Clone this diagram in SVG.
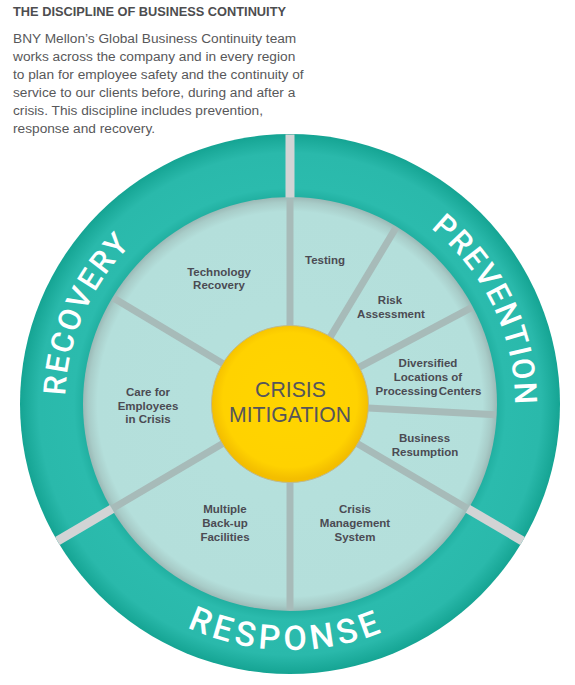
<svg xmlns="http://www.w3.org/2000/svg" width="575" height="685" viewBox="0 0 575 685">
  <defs>
    <radialGradient id="ringGrad" gradientUnits="userSpaceOnUse" cx="290" cy="404" r="270">
      <stop offset="0.76" stop-color="#1fae9f"/>
      <stop offset="0.80" stop-color="#2bbbad"/>
      <stop offset="0.93" stop-color="#2ab9ab"/>
      <stop offset="1" stop-color="#15a493"/>
    </radialGradient>
    <radialGradient id="innerGrad" gradientUnits="userSpaceOnUse" cx="290" cy="404" r="207">
      <stop offset="0" stop-color="#b6e1dd"/>
      <stop offset="0.93" stop-color="#b4dfdb"/>
      <stop offset="0.975" stop-color="#a8ccc8"/>
      <stop offset="1" stop-color="#9bb9b6"/>
    </radialGradient>
    <radialGradient id="sunGrad" gradientUnits="userSpaceOnUse" cx="290" cy="400" r="79">
      <stop offset="0" stop-color="#ffd500"/>
      <stop offset="0.85" stop-color="#ffd200"/>
      <stop offset="1" stop-color="#f3be00"/>
    </radialGradient>
    <path id="arcRecovery" d="M 80.4 485.7 A 225 225 0 0 1 208.3 194.4"/>
    <path id="arcPrevention" d="M 365.5 192.0 A 225 225 0 0 1 502.0 479.5"/>
    <path id="arcResponse" d="M 113.2 575.05 A 246 246 0 0 0 461.05 580.8"/>
    <style>
      .head { font-family: "Liberation Sans", Arial, sans-serif; font-weight: bold; font-size: 12.8px; fill: #4d4d4f; }
      .body { font-family: "Liberation Sans", Arial, sans-serif; font-size: 13.7px; fill: #58585a; }
      .ring { font-family: Roboto, "Liberation Sans", sans-serif; font-weight: 500; fill: #ffffff; }
      .lbl { font-family: "Liberation Sans", Arial, sans-serif; font-weight: bold; font-size: 11.5px; fill: #4b4b53; text-anchor: middle; }
      .core { font-family: "Liberation Sans", Arial, sans-serif; font-size: 22px; fill: #55555b; text-anchor: middle; }
      .spoke { stroke: #a7bbb9; stroke-width: 7; fill: none; }
      .divider { stroke: #d2d4d5; stroke-width: 9; fill: none; }
    </style>
  </defs>

  <g id="header">
    <text class="head" x="13" y="16">THE DISCIPLINE OF BUSINESS CONTINUITY</text>
    <text class="body" x="13" y="42.7">BNY Mellon’s Global Business Continuity team</text>
    <text class="body" x="13" y="60.8">works across the company and in every region</text>
    <text class="body" x="13" y="78.9">to plan for employee safety and the continuity of</text>
    <text class="body" x="13" y="97">service to our clients before, during and after a</text>
    <text class="body" x="13" y="115.1">crisis. This discipline includes prevention,</text>
    <text class="body" x="13" y="133.2">response and recovery.</text>
  </g>

  <g id="outer-ring">
    <circle cx="290" cy="404" r="270" fill="url(#ringGrad)"/>
  </g>

  <g id="inner-disk">
    <circle cx="290" cy="404" r="207" fill="url(#innerGrad)"/>
  </g>

  <g id="connectors">
    <line class="spoke" x1="290" y1="330" x2="290" y2="199"/>
    <line class="spoke" x1="330.2" y1="337.1" x2="396.1" y2="227.5"/>
    <line class="spoke" x1="358.9" y1="367.4" x2="471.9" y2="307.3"/>
    <line class="spoke" x1="367.9" y1="408.1" x2="495.7" y2="414.8"/>
    <line class="spoke" x1="357.2" y1="443.6" x2="467.5" y2="508.5"/>
    <line class="spoke" x1="290" y1="478" x2="290" y2="610"/>
    <line class="spoke" x1="222.8" y1="443.6" x2="112.5" y2="508.5"/>
    <line class="spoke" x1="223.1" y1="363.8" x2="113.5" y2="297.9"/>
    <line class="divider" x1="290" y1="197.5" x2="290" y2="134.5"/>
    <line class="divider" x1="467.9" y1="508.8" x2="522.6" y2="541"/>
    <line class="divider" x1="112.1" y1="508.8" x2="57.4" y2="541"/>
  </g>

  <g id="recovery">
    <text class="ring" font-size="31" letter-spacing="2"><textPath href="#arcRecovery" startOffset="50%" text-anchor="middle">RECOVERY</textPath></text>
  </g>
  <g id="prevention">
    <text class="ring" font-size="31" letter-spacing="1.7"><textPath href="#arcPrevention" startOffset="50%" text-anchor="middle">PREVENTION</textPath></text>
  </g>
  <g id="response">
    <text class="ring" font-size="34" letter-spacing="4.3"><textPath href="#arcResponse" startOffset="50%" text-anchor="middle">RESPONSE</textPath></text>
  </g>

  <g id="crisis-mitigation">
    <circle cx="290" cy="404" r="78.5" fill="url(#sunGrad)" stroke="#bdb98f" stroke-width="1"/>
    <text class="core" x="290.5" y="396.7" textLength="71" lengthAdjust="spacingAndGlyphs">CRISIS</text>
    <text class="core" x="290" y="421.7" textLength="122" lengthAdjust="spacingAndGlyphs">MITIGATION</text>
  </g>

  <g id="testing">
    <text class="lbl" x="325" y="264">Testing</text>
  </g>
  <g id="risk-assessment">
    <text class="lbl" x="390" y="304">Risk</text>
    <text class="lbl" x="391" y="317.5">Assessment</text>
  </g>
  <g id="diversified-locations">
    <text class="lbl" x="428" y="367">Diversified</text>
    <text class="lbl" x="428" y="381">Locations of</text>
    <text class="lbl" x="428.5" y="395" word-spacing="-2">Processing Centers</text>
  </g>
  <g id="business-resumption">
    <text class="lbl" x="424.5" y="442">Business</text>
    <text class="lbl" x="425" y="455.5">Resumption</text>
  </g>
  <g id="crisis-management">
    <text class="lbl" x="355" y="513">Crisis</text>
    <text class="lbl" x="355" y="527">Management</text>
    <text class="lbl" x="355" y="541">System</text>
  </g>
  <g id="multiple-backup">
    <text class="lbl" x="225" y="513">Multiple</text>
    <text class="lbl" x="225" y="527">Back-up</text>
    <text class="lbl" x="225" y="541">Facilities</text>
  </g>
  <g id="care-employees">
    <text class="lbl" x="148" y="396">Care for</text>
    <text class="lbl" x="148" y="409.5">Employees</text>
    <text class="lbl" x="148" y="423">in Crisis</text>
  </g>
  <g id="technology-recovery">
    <text class="lbl" x="219" y="275.7">Technology</text>
    <text class="lbl" x="219" y="289">Recovery</text>
  </g>
</svg>
